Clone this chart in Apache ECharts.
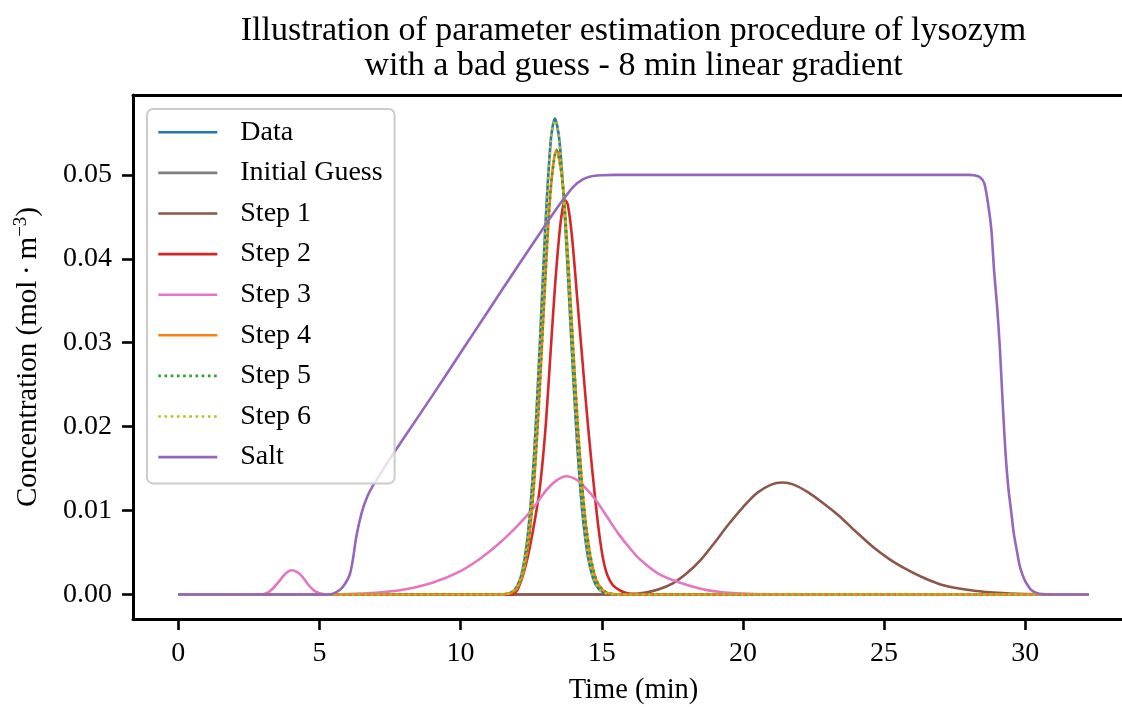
<!DOCTYPE html>
<html>
<head>
<meta charset="utf-8">
<script src="https://cdn.jsdelivr.net/npm/echarts@6/dist/echarts.min.js"></script>
<style>
html,body{margin:0;padding:0;background:#fff;}
#chart{width:1122px;height:707px;}
</style>
</head>
<body>
<div id="chart"></div>
<script>
// ---------- data (time in min, concentration in mol/m^3) ----------
const xTicks = [0, 5, 10, 15, 20, 25, 30];
const yTicks = [0, 0.01, 0.02, 0.03, 0.04, 0.05];

const dataT = [0, 11.4, 11.6, 11.8, 12.0, 12.2, 12.4, 12.6, 12.8, 13.0, 13.2, 13.34, 13.5, 13.7, 13.9, 14.1, 14.3, 14.5, 14.7, 14.9, 15.1, 15.4, 16.0, 32.25];
const dataC = [0, 0.00001, 0.00006, 0.00027, 0.00098, 0.0030, 0.0077, 0.0164, 0.0293, 0.0437, 0.0543, 0.0567, 0.0541, 0.0446, 0.0317, 0.0195, 0.0103, 0.0047, 0.00185, 0.00063, 0.0002, 0.00003, 0, 0];

const guessT = [0, 32.25];
const guessC = [0, 0];

const step1T = [0, 15.5, 16.0, 16.5, 17.0, 17.5, 18.0, 18.5, 19.0, 19.5, 20.0, 20.5, 21.0, 21.4, 21.8, 22.3, 22.8, 23.4, 24.0, 24.6, 25.2, 25.8, 26.4, 27.0, 27.6, 28.2, 29.0, 30.0, 31.0, 32.25];
const step1C = [0, 0, 0.00005, 0.0002, 0.0006, 0.0013, 0.0025, 0.0041, 0.0062, 0.0084, 0.0104, 0.0121, 0.0131, 0.01335, 0.0131, 0.0122, 0.0110, 0.0094, 0.0075, 0.0057, 0.0042, 0.0030, 0.0020, 0.0012, 0.00075, 0.00045, 0.0002, 0.00005, 0, 0];

const step2T = [0, 11.8, 12.0, 12.2, 12.4, 12.6, 12.8, 13.0, 13.2, 13.35, 13.5, 13.6, 13.7, 13.8, 13.95, 14.15, 14.3, 14.45, 14.6, 14.75, 14.9, 15.05, 15.2, 15.4, 15.7, 16.0, 16.5, 32.25];
const step2C = [0, 0, 0.0005, 0.0022, 0.0048, 0.0083, 0.0125, 0.0195, 0.0295, 0.0370, 0.0430, 0.0457, 0.0470, 0.0464, 0.0425, 0.0345, 0.0285, 0.0225, 0.0170, 0.0120, 0.0075, 0.0042, 0.0023, 0.0011, 0.0004, 0.0001, 0, 0];

const step3T = [0, 2.8, 3.0, 3.2, 3.4, 3.6, 3.8, 4.0, 4.2, 4.4, 4.6, 4.8, 5.0, 5.2, 5.5, 6.0, 7.0, 8.0, 9.0, 10.0, 10.7, 11.3, 11.9, 12.5, 13.05, 13.4, 13.75, 14.1, 14.4, 14.8, 15.2, 15.6, 16.0, 16.35, 17.0, 17.7, 18.5, 19.2, 20.0, 21.0, 22.0, 32.25];
const step3C = [0, 0, 0.00005, 0.0003, 0.0009, 0.0017, 0.0025, 0.0029, 0.0027, 0.0021, 0.0012, 0.0005, 0.00015, 0.00004, 0.00002, 0.00006, 0.0002, 0.0006, 0.0014, 0.0028, 0.0043, 0.0059, 0.0078, 0.0100, 0.0125, 0.0136, 0.0141, 0.0137, 0.0128, 0.0112, 0.0092, 0.0072, 0.0055, 0.0042, 0.0025, 0.0015, 0.0007, 0.0003, 0.00012, 0.00003, 0, 0];

const step4T = [0, 11.4, 11.6, 11.8, 12.0, 12.2, 12.4, 12.6, 12.8, 13.0, 13.2, 13.4, 13.6, 13.8, 14.0, 14.2, 14.4, 14.6, 14.8, 15.0, 15.2, 15.5, 16.0, 32.25];
const step4C = [0, 0.00001, 0.00005, 0.0002, 0.00075, 0.0023, 0.0060, 0.0132, 0.0243, 0.0375, 0.0486, 0.0530, 0.0495, 0.0403, 0.0286, 0.0177, 0.0095, 0.0045, 0.0018, 0.00066, 0.0002, 0.00004, 0, 0];
const step5C = [0, 0.00001, 0.00005, 0.0002, 0.00077, 0.0024, 0.0061, 0.0134, 0.0245, 0.0377, 0.0487, 0.0529, 0.0494, 0.0402, 0.0286, 0.0178, 0.0096, 0.0046, 0.0018, 0.00067, 0.0002, 0.00004, 0, 0];
const step6C = [0, 0.00001, 0.00006, 0.00028, 0.0010, 0.0031, 0.0078, 0.0165, 0.0294, 0.0436, 0.0541, 0.0565, 0.0540, 0.0447, 0.0320, 0.0198, 0.0106, 0.0049, 0.0019, 0.00066, 0.0002, 0.00003, 0, 0];

const saltT = [0, 5.2, 5.4, 5.6, 5.8, 6.0, 6.1, 6.2, 6.3, 6.5, 6.7, 6.9, 7.2, 7.5, 8.0, 9.0, 10.0, 11.0, 12.0, 13.0, 13.6, 14.0, 14.3, 14.6, 15.0, 15.5, 20.0, 25.0, 28.0, 28.2, 28.4, 28.55, 28.7, 28.8, 28.9, 29.0, 29.1, 29.2, 29.3, 29.4, 29.5, 29.6, 29.7, 29.8, 29.9, 30.0, 30.2, 30.4, 30.6, 31.0, 32.25];
const saltC = [0, 0, 0.00005, 0.0003, 0.0008, 0.0018, 0.0027, 0.0045, 0.0068, 0.0098, 0.0117, 0.0130, 0.0146, 0.0162, 0.0187, 0.0237, 0.0288, 0.0339, 0.0390, 0.0440, 0.0469, 0.0486, 0.0494, 0.0498, 0.04995, 0.0500, 0.0500, 0.0500, 0.0500, 0.04995, 0.0497, 0.0490, 0.0462, 0.0435, 0.0385, 0.0345, 0.0295, 0.0230, 0.0170, 0.0128, 0.0100, 0.0072, 0.0053, 0.0035, 0.0024, 0.0016, 0.0006, 0.0002, 0.00005, 0, 0];

const seriesDefs = [
  {name: 'Data',          t: dataT,  c: dataC,  color: '#1f77b4', dotted: false},
  {name: 'Initial Guess', t: guessT, c: guessC, color: '#7f7f7f', dotted: false},
  {name: 'Step 1',        t: step1T, c: step1C, color: '#8c564b', dotted: false},
  {name: 'Step 2',        t: step2T, c: step2C, color: '#d62728', dotted: false},
  {name: 'Step 3',        t: step3T, c: step3C, color: '#e377c2', dotted: false},
  {name: 'Step 4',        t: step4T, c: step4C, color: '#ff7f0e', dotted: false},
  {name: 'Step 5',        t: step4T, c: step5C, color: '#2ca02c', dotted: true},
  {name: 'Step 6',        t: dataT,  c: step6C, color: '#bcbd22', dotted: true},
  {name: 'Salt',          t: saltT,  c: saltC,  color: '#9467bd', dotted: false}
];

// ---------- chart ----------
const FONT = '"Liberation Serif", "Times New Roman", "DejaVu Serif", serif';
const chart = echarts.init(document.getElementById('chart'), null, {renderer: 'canvas'});

const X0 = 178.3, XS = 28.23;           // px of x=0, px per minute
const GL = 133, GT = 95, GB = 619;
const xMin = (GL - X0) / XS, xMax = (1122 - X0) / XS;
const yMin = -0.00291, yMax = 0.05951;

const series = seriesDefs.map(d => ({
  name: d.name,
  type: 'line',
  data: d.t.map((t, i) => [t, d.c[i]]),
  symbol: 'none',
  smooth: 0.3,
  clip: true,
  lineStyle: {color: d.color, width: 2.6, type: d.dotted ? [2.6, 3.6] : 'solid', cap: 'butt'},
  itemStyle: {color: d.color},
  emphasis: {disabled: true},
  animation: false
}));

const option = {
  animation: false,
  backgroundColor: '#ffffff',
  grid: {left: GL, top: GT, right: 0, bottom: 707 - GB, containLabel: false},
  xAxis: [{
    type: 'value', min: xMin, max: xMax, position: 'bottom',
    axisLine: {show: true, onZero: false, lineStyle: {color: '#000', width: 3}},
    axisTick: {show: true, inside: false, length: 11, lineStyle: {color: '#000', width: 2.6}, customValues: xTicks},
    axisLabel: {show: true, customValues: xTicks, margin: 21, color: '#000', fontFamily: FONT, fontSize: 28,
      formatter: v => String(Math.round(v))},
    splitLine: {show: false}
  }, {
    type: 'value', min: xMin, max: xMax, position: 'top',
    axisLine: {show: true, onZero: false, lineStyle: {color: '#000', width: 3}},
    axisTick: {show: false}, axisLabel: {show: false}, splitLine: {show: false}
  }],
  yAxis: {
    type: 'value', min: yMin, max: yMax,
    axisLine: {show: true, onZero: false, lineStyle: {color: '#000', width: 3}},
    axisTick: {show: true, inside: false, length: 11, lineStyle: {color: '#000', width: 2.6}, customValues: yTicks},
    axisLabel: {show: true, customValues: yTicks, margin: 21, color: '#000', fontFamily: FONT, fontSize: 28,
      formatter: v => v.toFixed(2)},
    splitLine: {show: false}
  },
  legend: {
    show: true,
    orient: 'vertical',
    left: 147, top: 109,
    padding: [3, 12, 6, 10],
    itemWidth: 59, itemHeight: 14, itemGap: 0,
    itemStyle: {opacity: 0},
    lineStyle: {width: 2.6},
    backgroundColor: 'rgba(255,255,255,0.8)',
    borderColor: '#cccccc', borderWidth: 2, borderRadius: 6,
    selectedMode: false,
    textStyle: {fontFamily: FONT, fontSize: 28, color: '#000', lineHeight: 40.6, padding: [0, 0, 0, 18]},
    data: seriesDefs.map(d => d.name)
  },
  graphic: [
    {type: 'text', x: 633.5, y: 49, z: 100,
      style: {text: 'Illustration of parameter estimation procedure of lysozym\nwith a bad guess - 8 min linear gradient',
        fontFamily: FONT, fontSize: 34, lineHeight: 35, fill: '#000', align: 'center', verticalAlign: 'middle'}},
    {type: 'text', x: 633.5, y: 691, z: 100,
      style: {text: 'Time (min)', fontFamily: FONT, fontSize: 28.5, fill: '#000', align: 'center', verticalAlign: 'middle'}},
    {type: 'text', x: 28, y: 357, rotation: Math.PI / 2, z: 100,
      style: {text: '{a|Concentration (mol\u2009\u00b7\u2009m}{s|\u22123}{a|)}', align: 'center', verticalAlign: 'middle',
        rich: {
          a: {fontFamily: FONT, fontSize: 29, fill: '#000', color: '#000'},
          s: {fontFamily: FONT, fontSize: 19, fill: '#000', color: '#000', padding: [0, 0, 14, 0]}
        }}}
  ],
  series: series
};
chart.setOption(option);
</script>
</body>
</html>
